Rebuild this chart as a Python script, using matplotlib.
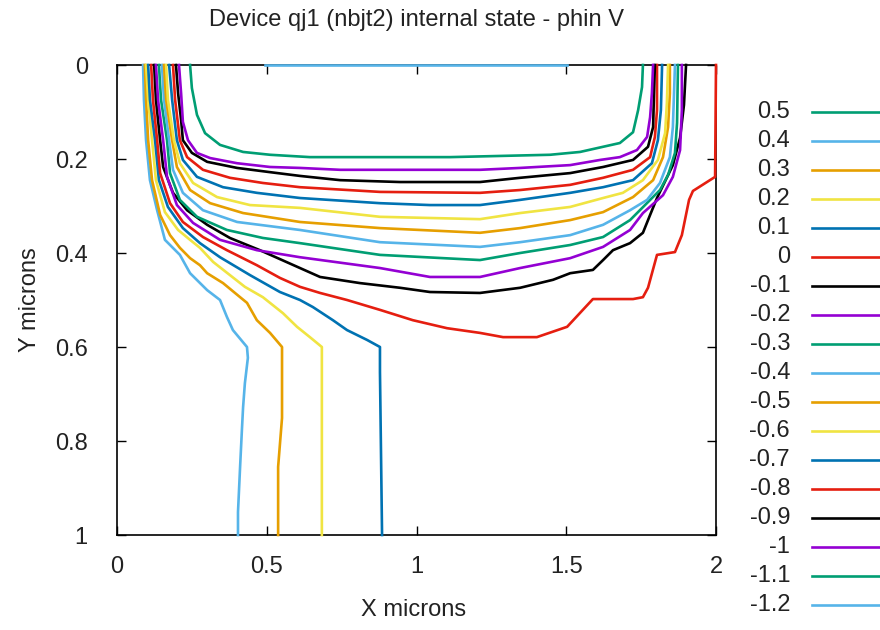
import matplotlib
matplotlib.use("Agg")
import matplotlib.pyplot as plt
from matplotlib.lines import Line2D

plt.rcParams['font.family'] = ['Liberation Sans', 'DejaVu Sans']

TITLE = "Device qj1 (nbjt2) internal state - phin V"
LEVELS = ["0.5", "0.4", "0.3", "0.2", "0.1", "0", "-0.1", "-0.2", "-0.3",
          "-0.4", "-0.5", "-0.6", "-0.7", "-0.8", "-0.9", "-1", "-1.1", "-1.2"]
X_TICKS = [0, 0.5, 1, 1.5, 2]
Y_TICKS = [0, 0.2, 0.4, 0.6, 0.8, 1]

# contour traces (x, y in microns)
x_p05 = []
y_p05 = []
x_p04 = [0.087, 0.090, 0.097, 0.110, 0.134, 0.160, 0.210, 0.244, 0.301, 0.344, 0.367, 0.387, 0.434, 0.437, 0.427, 0.421, 0.417, 0.411, 0.404, 0.404]
y_p04 = [0, 0.074, 0.160, 0.245, 0.309, 0.372, 0.404, 0.443, 0.479, 0.500, 0.536, 0.564, 0.600, 0.623, 0.677, 0.728, 0.777, 0.855, 0.951, 1.0]
x_p03 = [0.093, 0.097, 0.104, 0.117, 0.144, 0.177, 0.210, 0.244, 0.277, 0.301, 0.354, 0.411, 0.434, 0.467, 0.511, 0.551, 0.551, 0.538, 0.538]
y_p03 = [0, 0.074, 0.160, 0.245, 0.319, 0.362, 0.389, 0.411, 0.426, 0.443, 0.464, 0.494, 0.506, 0.543, 0.570, 0.600, 0.751, 0.855, 1.0]
x_p02 = [0.097, 0.104, 0.117, 0.130, 0.160, 0.204, 0.244, 0.277, 0.321, 0.377, 0.427, 0.487, 0.554, 0.601, 0.644, 0.684, 0.684]
y_p02 = [0, 0.074, 0.160, 0.245, 0.313, 0.351, 0.372, 0.389, 0.419, 0.447, 0.472, 0.494, 0.528, 0.557, 0.579, 0.600, 1.0]
x_p01 = [0.104, 0.110, 0.127, 0.140, 0.170, 0.220, 0.277, 0.344, 0.444, 0.544, 0.611, 0.654, 0.721, 0.768, 0.835, 0.878, 0.878, 0.885]
y_p01 = [0, 0.074, 0.160, 0.245, 0.302, 0.347, 0.379, 0.409, 0.447, 0.483, 0.500, 0.515, 0.543, 0.564, 0.585, 0.600, 0.653, 1.0]
x_0 = [0.114, 0.120, 0.134, 0.144, 0.177, 0.220, 0.287, 0.367, 0.467, 0.544, 0.611, 0.678, 0.768, 0.878, 0.988, 1.102, 1.212, 1.289, 1.402, 1.503,
       1.589, 1.723, 1.756, 1.773, 1.803, 1.863, 1.886, 1.910, 1.923, 1.997, 2.0]
y_0 = [0, 0.074, 0.160, 0.230, 0.294, 0.334, 0.366, 0.394, 0.426, 0.453, 0.472, 0.485, 0.500, 0.521, 0.543, 0.560, 0.570, 0.579, 0.579, 0.557,
       0.498, 0.498, 0.494, 0.474, 0.404, 0.398, 0.362, 0.287, 0.268, 0.238, 0]
x_m01 = [0.124, 0.130, 0.144, 0.154, 0.187, 0.234, 0.301, 0.377, 0.477, 0.611, 0.678, 0.811, 0.945, 1.045, 1.212, 1.346, 1.456, 1.513, 1.589, 1.623,
         1.656, 1.713, 1.756, 1.780, 1.803, 1.856, 1.880, 1.893, 1.900]
y_m01 = [0, 0.074, 0.160, 0.217, 0.272, 0.309, 0.340, 0.368, 0.394, 0.432, 0.451, 0.464, 0.474, 0.483, 0.485, 0.474, 0.457, 0.443, 0.436, 0.415,
         0.394, 0.379, 0.357, 0.319, 0.283, 0.213, 0.155, 0.085, 0]
x_m02 = [0.130, 0.137, 0.154, 0.167, 0.200, 0.254, 0.344, 0.467, 0.611, 0.878, 1.045, 1.212, 1.346, 1.513, 1.623, 1.713, 1.756, 1.823, 1.856, 1.880, 1.886, 1.886]
y_m02 = [0, 0.074, 0.160, 0.238, 0.298, 0.336, 0.372, 0.394, 0.409, 0.432, 0.451, 0.451, 0.432, 0.411, 0.387, 0.351, 0.315, 0.277, 0.238, 0.181, 0.096, 0]
x_m03 = [0.140, 0.147, 0.167, 0.177, 0.210, 0.267, 0.367, 0.487, 0.611, 0.878, 1.212, 1.346, 1.513, 1.623, 1.713, 1.763, 1.813, 1.840, 1.863, 1.870, 1.873]
y_m03 = [0, 0.074, 0.160, 0.230, 0.287, 0.323, 0.351, 0.368, 0.379, 0.404, 0.415, 0.400, 0.383, 0.366, 0.330, 0.298, 0.266, 0.234, 0.187, 0.123, 0]
x_m04 = [0.150, 0.157, 0.174, 0.187, 0.220, 0.287, 0.401, 0.611, 0.878, 1.212, 1.346, 1.513, 1.623, 1.713, 1.770, 1.813, 1.846, 1.856, 1.863]
y_m04 = [0, 0.074, 0.160, 0.223, 0.272, 0.309, 0.334, 0.351, 0.377, 0.387, 0.377, 0.362, 0.340, 0.309, 0.287, 0.251, 0.196, 0.132, 0]
x_m05 = [0.157, 0.164, 0.184, 0.200, 0.244, 0.311, 0.421, 0.611, 0.878, 1.212, 1.346, 1.513, 1.623, 1.723, 1.790, 1.823, 1.840, 1.846, 1.846]
y_m05 = [0, 0.074, 0.160, 0.217, 0.266, 0.294, 0.315, 0.334, 0.347, 0.357, 0.347, 0.330, 0.313, 0.281, 0.245, 0.196, 0.132, 0.060, 0]
x_m06 = [0.164, 0.170, 0.190, 0.210, 0.254, 0.334, 0.444, 0.611, 0.878, 1.212, 1.346, 1.513, 1.623, 1.689, 1.756, 1.806, 1.830, 1.836, 1.840]
y_m06 = [0, 0.074, 0.160, 0.209, 0.251, 0.281, 0.298, 0.304, 0.323, 0.328, 0.315, 0.302, 0.283, 0.272, 0.245, 0.202, 0.145, 0.081, 0]
x_m07 = [0.174, 0.184, 0.200, 0.220, 0.267, 0.354, 0.467, 0.611, 0.878, 1.045, 1.212, 1.346, 1.513, 1.623, 1.723, 1.786, 1.806, 1.816, 1.820]
y_m07 = [0, 0.074, 0.160, 0.202, 0.238, 0.260, 0.272, 0.283, 0.294, 0.298, 0.298, 0.287, 0.272, 0.260, 0.245, 0.209, 0.160, 0.096, 0]
x_m08 = [0.187, 0.194, 0.210, 0.234, 0.287, 0.377, 0.487, 0.611, 0.878, 1.212, 1.346, 1.513, 1.623, 1.723, 1.780, 1.796, 1.803, 1.803]
y_m08 = [0, 0.074, 0.160, 0.196, 0.223, 0.240, 0.251, 0.260, 0.270, 0.272, 0.266, 0.255, 0.240, 0.223, 0.196, 0.153, 0.096, 0]
x_m09 = [0.197, 0.204, 0.214, 0.220, 0.250, 0.301, 0.401, 0.511, 0.611, 0.745, 0.945, 1.212, 1.346, 1.513, 1.623, 1.723, 1.773, 1.790, 1.793, 1.796]
y_m09 = [0, 0.060, 0.117, 0.160, 0.187, 0.206, 0.219, 0.228, 0.236, 0.245, 0.249, 0.249, 0.240, 0.230, 0.217, 0.202, 0.174, 0.132, 0.060, 0]
x_m10 = [0.207, 0.214, 0.220, 0.237, 0.267, 0.311, 0.401, 0.511, 0.611, 0.745, 1.212, 1.346, 1.513, 1.613, 1.679, 1.736, 1.770, 1.780, 1.786, 1.790]
y_m10 = [0, 0.060, 0.121, 0.160, 0.187, 0.198, 0.209, 0.217, 0.219, 0.223, 0.223, 0.219, 0.213, 0.202, 0.196, 0.181, 0.153, 0.111, 0.060, 0]
x_m11 = [0.244, 0.250, 0.267, 0.294, 0.344, 0.421, 0.511, 0.644, 1.112, 1.446, 1.546, 1.623, 1.679, 1.723, 1.740, 1.753, 1.756]
y_m11 = [0, 0.049, 0.106, 0.145, 0.170, 0.185, 0.191, 0.196, 0.196, 0.191, 0.185, 0.174, 0.166, 0.143, 0.096, 0.047, 0]
x_m12 = [0.494, 1.503]
y_m12 = [0, 0]

XS = [x_p05, x_p04, x_p03, x_p02, x_p01, x_0, x_m01, x_m02, x_m03,
      x_m04, x_m05, x_m06, x_m07, x_m08, x_m09, x_m10, x_m11, x_m12]
YS = [y_p05, y_p04, y_p03, y_p02, y_p01, y_0, y_m01, y_m02, y_m03,
      y_m04, y_m05, y_m06, y_m07, y_m08, y_m09, y_m10, y_m11, y_m12]

# gnuplot default line type cycle, starting at lt 2
GP = ["#009E73", "#56B4E9", "#E69F00", "#F0E442", "#0072B2", "#E51E10", "black", "#9400D3"]
COLORS = [GP[i % len(GP)] for i in range(len(LEVELS))]

FS = 17
W, H = 880, 630
fig = plt.figure(figsize=(W / 100, H / 100), dpi=100)
ax = fig.add_axes([117 / W, 1 - 535 / H, 599 / W, 470 / H])

for xs, ys, c in zip(XS, YS, COLORS):
    ax.plot(xs, ys, color=c, lw=1.9, clip_on=False, zorder=3)

ax.set_xlim(0, 2)
ax.set_ylim(1, 0)
ax.set_xticks(X_TICKS)
ax.set_xticklabels([f"{v:g}" for v in X_TICKS])
ax.set_yticks(Y_TICKS)
ax.set_yticklabels([f"{v:g}" for v in Y_TICKS])
ax.tick_params(direction='in', length=6.5, width=1.0, top=True, right=True,
               labelsize=FS, labelcolor='#222222')
ax.tick_params(axis='x', pad=15)
ax.tick_params(axis='y', pad=21)
for s in ax.spines.values():
    s.set_linewidth(1.2)
    s.set_color('black')

fig.text(416.5 / W, 1 - 20 / H, TITLE, ha='center', va='center', fontsize=FS, color='#222222')
fig.text(414 / W, 1 - 610 / H, "X microns", ha='center', va='center', fontsize=FS, color='#222222')
fig.text(30 / W, 1 - 300 / H, "Y microns", ha='center', va='center', rotation=90, fontsize=FS, color='#222222')

# key outside on the right, gnuplot style (label then sample line)
for i, (lab, c) in enumerate(zip(LEVELS, COLORS)):
    yy = 1 - (112 + 29 * i) / H
    fig.text(790 / W, yy, lab, ha='right', va='center', fontsize=FS, color='#222222')
    fig.add_artist(Line2D([812 / W, 1.0], [yy, yy], color=c, lw=1.9, transform=fig.transFigure))

fig.savefig("out.png", dpi=100)
